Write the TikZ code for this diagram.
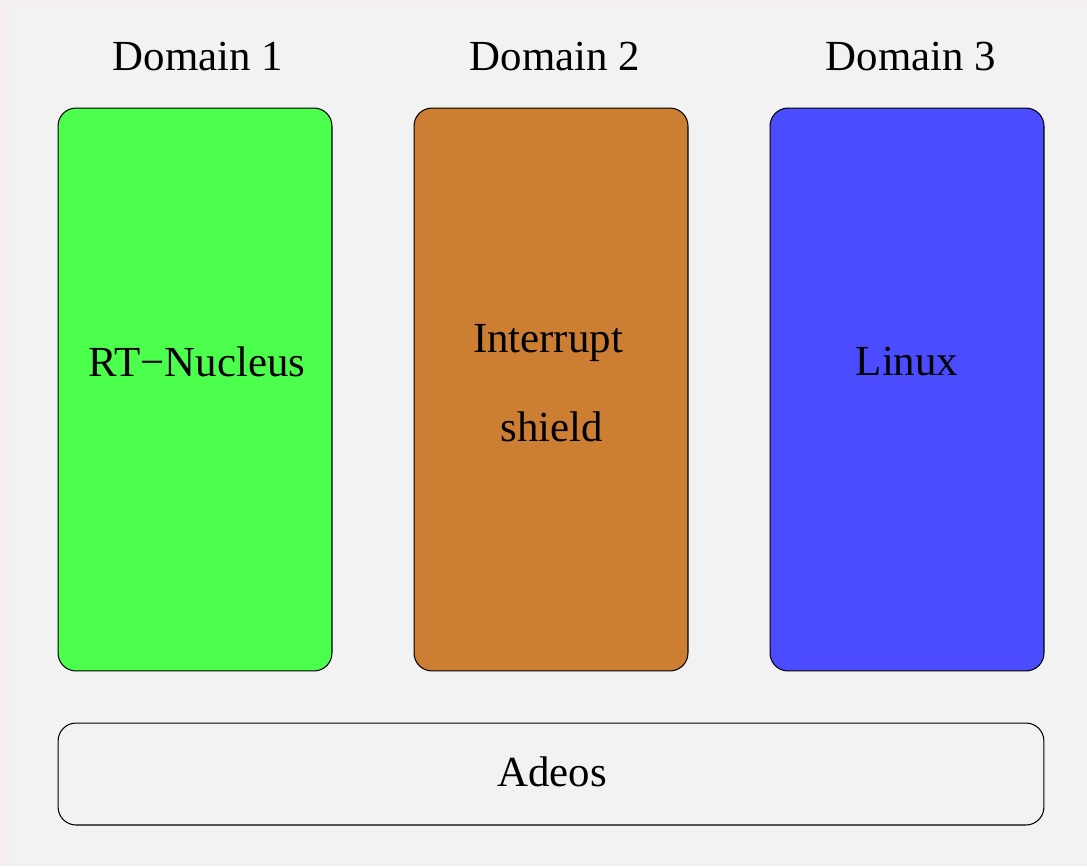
\documentclass[tikz,border=0pt]{standalone}
\usepackage{fontspec}
\setmainfont{Liberation Serif}
\definecolor{bgpink}{HTML}{F4EEEE}
\definecolor{panelgray}{HTML}{F2F2F2}
\definecolor{rtgreen}{HTML}{4CFF4C}
\definecolor{shieldorange}{HTML}{CC7F33}
\definecolor{linuxblue}{HTML}{4C4CFF}
\begin{document}
\begin{tikzpicture}[x=0.02cm, y=-0.02cm,
    domainbox/.style={draw, rounded corners=0.36cm, line width=0.6pt, inner sep=0pt},
    lbl/.style={inner sep=0pt, anchor=base, font=\fontsize{24.4}{29}\selectfont}]
    \useasboundingbox (0, 0) rectangle (1087, 866);
    \fill[bgpink] (0, 0) rectangle (1087, 866);
    \fill[panelgray] (10, 7) rectangle (1087, 866);
    % domain boxes
    \node[domainbox, fill=rtgreen, minimum width=5.48cm, minimum height=11.26cm] (rtbox) at (195, 389.5) {};
    \node[domainbox, fill=shieldorange, minimum width=5.48cm, minimum height=11.26cm] (shieldbox) at (551, 389.5) {};
    \node[domainbox, fill=linuxblue, minimum width=5.48cm, minimum height=11.26cm] (linuxbox) at (907, 389.5) {};
    \node[domainbox, fill=panelgray, minimum width=19.72cm, minimum height=2.04cm] (adeos) at (551, 774) {};
    % labels
    \node[lbl] (dom1) at (198, 70) {Domain 1};
    \node[lbl] (dom2) at (555, 70) {Domain 2};
    \node[lbl] (dom3) at (911, 70) {Domain 3};
    \node[lbl] (rtlbl) at (197, 376) {RT−Nucleus};
    \node[lbl] (intlbl) at (548, 352) {Interrupt};
    \node[lbl] (shlbl) at (552, 441) {shield};
    \node[lbl] (linuxlbl) at (907, 375) {Linux};
    \node[lbl] (adeoslbl) at (552, 786) {Adeos};
\end{tikzpicture}
\end{document}
